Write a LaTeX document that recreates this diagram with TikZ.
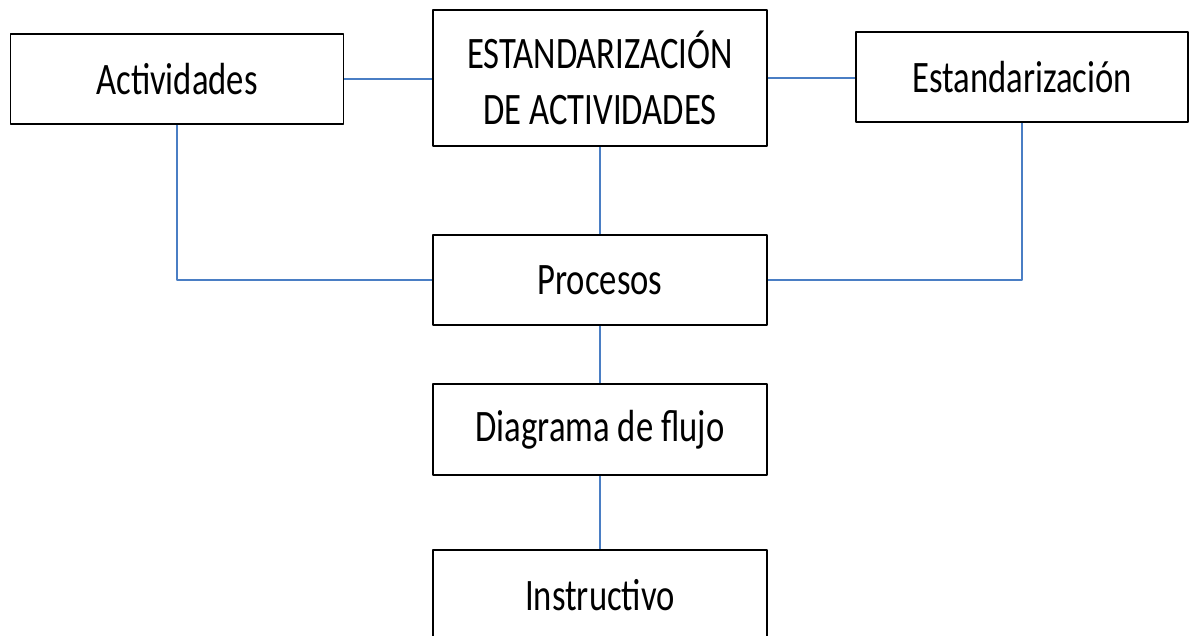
\documentclass[tikz,border=0pt]{standalone}
\usepackage{fontspec}
\setmainfont{Carlito}[FakeStretch=0.77]
\usetikzlibrary{positioning}
\definecolor{linkblue}{HTML}{4A7EC4}
\begin{document}
\begin{tikzpicture}[x=1pt,y=-1pt,line join=round,
	box/.style={draw=black,line width=1.5pt,fill=white,inner sep=0pt,align=center,minimum width=334pt,minimum height=90pt,font=\fontsize{45}{56}\selectfont},
	link/.style={draw=linkblue,line width=2pt}]
		\clip (0,0)rectangle(1189,635);
		\fill[white] (0,0)rectangle(1189,635);
		\node[box,minimum width=333pt] (act) at (177,79) {Actividades};
		\node[box,minimum height=136pt] (est) at (600,78) {ESTANDARIZACIÓN\\DE ACTIVIDADES};
		\node[box,minimum width=332pt] (estd) at (1022,77) {Estandarización};
		\node[box] (proc) at (600,280) {Procesos};
		\node[box,minimum height=91pt] (diag) at (600,429.5) {Diagrama de flujo};
		\node[box] (inst) at (600,595) {Instructivo};
		\draw[link] (act.east)--(act.east-|est.west)  (est.east)--(est.east-|estd.west);
		\draw[link] (est.south)--(proc.north);
		\draw[link] (act.south)|-(proc.west);
		\draw[link] (estd.south)|-(proc.east);
		\draw[link] (proc.south)--(diag.north)  (diag.south)--(inst.north);
		\end{tikzpicture}
\end{document}
